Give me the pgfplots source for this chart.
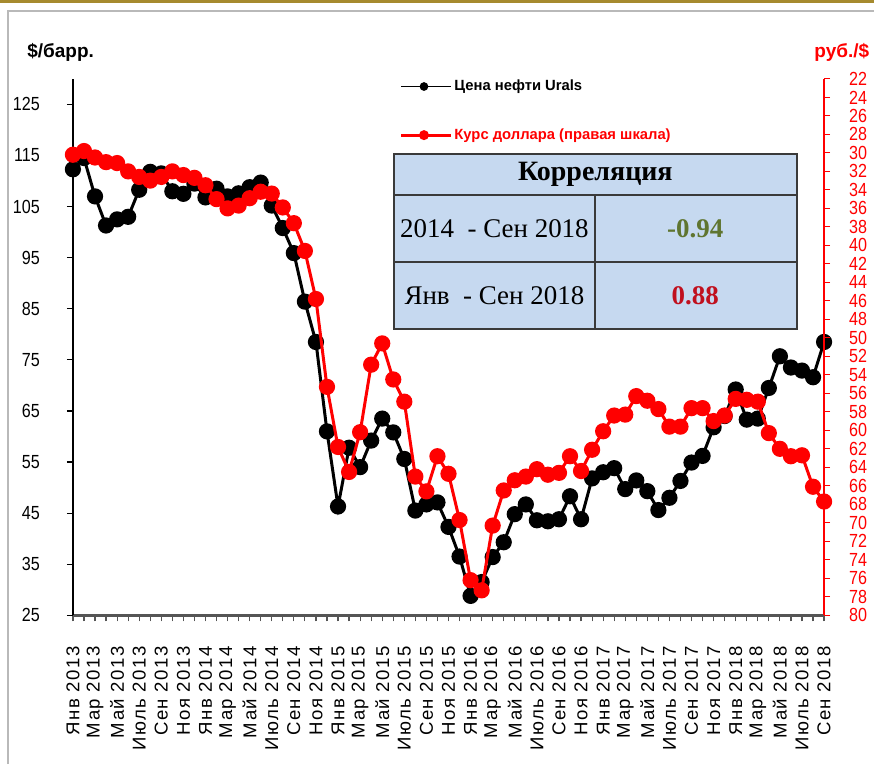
\documentclass[border=0pt]{standalone}
\usepackage{pgfplots}
\pgfplotsset{compat=1.18}
\usepackage{pgfplotstable}
\usepackage{fontspec}
\setmainfont{Liberation Sans}
\newfontfamily\narrowfont[FakeStretch=0.85]{Liberation Sans}
\newfontfamily\spacedfont[LetterSpace=8]{Liberation Sans}
\newfontfamily\seriffont{Liberation Serif}
\definecolor{tblfill}{HTML}{C6D9F0}
\definecolor{tblline}{HTML}{3A3A3A}
\definecolor{olivegreen}{HTML}{5F7530}
\definecolor{darkred}{HTML}{C0101E}
\definecolor{goldline}{HTML}{A68A2E}
\definecolor{xaxisgray}{HTML}{555555}

\pgfplotstableread{
i oil
0 112.3
1 114.5
2 107.0
3 101.3
4 102.5
5 103.0
6 108.3
7 111.8
8 111.5
9 108.0
10 107.5
11 109.5
12 106.8
13 108.5
14 107.0
15 107.6
16 108.8
17 109.7
18 105.2
19 100.8
20 95.9
21 86.4
22 78.5
23 61.0
24 46.3
25 57.8
26 54.0
27 59.2
28 63.5
29 60.8
30 55.6
31 45.5
32 46.7
33 47.1
34 42.3
35 36.5
36 28.8
37 31.5
38 36.4
39 39.3
40 44.8
41 46.7
42 43.6
43 43.4
44 43.8
45 48.3
46 43.8
47 51.8
48 53.0
49 53.8
50 49.7
51 51.4
52 49.3
53 45.6
54 48.0
55 51.3
56 54.9
57 56.2
58 61.8
59 64.0
60 69.2
61 63.3
62 63.5
63 69.5
64 75.7
65 73.5
66 72.9
67 71.6
68 78.5
}\oiltable

\pgfplotstableread{
i usd
0 30.2
1 29.8
2 30.5
3 31.0
4 31.1
5 32.0
6 32.6
7 33.0
8 32.6
9 32.0
10 32.4
11 32.7
12 33.5
13 35.0
14 36.0
15 35.7
16 34.9
17 34.2
18 34.4
19 35.9
20 37.6
21 40.6
22 45.8
23 55.3
24 61.8
25 64.5
26 60.2
27 52.9
28 50.6
29 54.5
30 56.9
31 65.0
32 66.6
33 62.8
34 64.7
35 69.7
36 76.2
37 77.3
38 70.3
39 66.5
40 65.4
41 65.0
42 64.2
43 64.8
44 64.6
45 62.8
46 64.4
47 62.1
48 60.1
49 58.4
50 58.3
51 56.3
52 56.8
53 57.7
54 59.6
55 59.6
56 57.6
57 57.6
58 59.0
59 58.4
60 56.6
61 56.7
62 56.9
63 60.3
64 62.0
65 62.8
66 62.7
67 66.1
68 67.7
}\usdtable

\begin{document}
\begin{tikzpicture}[x=0.5bp,y=0.5bp]
% canvas
\path (0,0) rectangle (875,765);
\fill[goldline] (0,765) rectangle (875,761.5);
\draw[gray!55, line width=1bp] (8,0) -- (8,754) -- (875,754);

% left axis: oil
\begin{axis}[
  at={(36.5bp,74.5bp)}, anchor=south west,
  scale only axis, width=376bp, height=268.5bp,
  xmin=0, xmax=68, ymin=25, ymax=130,
  axis x line*=bottom, axis y line*=left,
  axis line style={-},
  x axis line style={xaxisgray, line width=1.3bp},
  y axis line style={black, line width=0.7bp},
  ytick={25,35,...,125},
  xtick={0,2,...,68},
  minor xtick={1,3,...,67},
  tick align=outside,
  major tick length=3bp, minor tick length=3bp,
  xtick style={xaxisgray, line width=0.6bp},
  ytick style={black, line width=0.6bp},
  /pgf/number format/assume math mode=true,
  yticklabel style={font=\narrowfont\fontsize{9.5bp}{10bp}\selectfont, xshift=-10bp},
  xticklabel style={font=\spacedfont\fontsize{9.3bp}{10bp}\selectfont, rotate=90, anchor=east},
  xticklabel shift=9bp,
  xticklabels={Янв 2013,Мар 2013,Май 2013,Июль 2013,Сен 2013,Ноя 2013,
    Янв 2014,Мар 2014,Май 2014,Июль 2014,Сен 2014,Ноя 2014,
    Янв 2015,Мар 2015,Май 2015,Июль 2015,Сен 2015,Ноя 2015,
    Янв 2016,Мар 2016,Май 2016,Июль 2016,Сен 2016,Ноя 2016,
    Янв 2017,Мар 2017,Май 2017,Июль 2017,Сен 2017,Ноя 2017,
    Янв 2018,Мар 2018,Май 2018,Июль 2018,Сен 2018},
  clip=false,
]
\addplot[black, line width=1.5bp, mark=*, mark size=3.3bp, mark options={fill=black}] table[x=i, y=oil] {\oiltable};
\end{axis}

% right axis: USD
\begin{axis}[
  at={(36.5bp,74.5bp)}, anchor=south west,
  scale only axis, width=376bp, height=268.5bp,
  xmin=0, xmax=68, ymin=22, ymax=80, y dir=reverse,
  axis x line=none, axis y line*=right,
  axis line style={-},
  y axis line style={red, line width=0.7bp},
  ytick={22,24,...,80},
  tick align=outside, major tick length=3bp,
  ytick style={red, line width=0.6bp},
  /pgf/number format/assume math mode=true,
  yticklabel style={font=\narrowfont\fontsize{9.5bp}{10bp}\selectfont, red, xshift=6bp},
  clip=false,
  legend cell align=left,
  legend image code/.code={\draw[mark repeat=2,mark phase=2,#1, mark size=1.7bp] plot coordinates {(0bp,0bp) (11.5bp,0bp) (25bp,0bp)};},
  legend style={draw=none, fill=none, inner sep=0pt, outer sep=0pt,
    at={(0.4348,1.006)}, anchor=north west,
    font=\bfseries\fontsize{7.4bp}{8bp}\selectfont,
    row sep=13.5bp,
    /tikz/every even column/.append style={column sep=0bp},
    /tikz/every odd column/.append style={column sep=-1bp}},
]
\addlegendimage{black, line width=0.9bp, mark=*, mark options={fill=black}}
\addlegendentry{Цена нефти Urals}
\addplot[red, line width=1.5bp, mark=*, mark size=3.3bp, mark options={fill=red}] table[x=i, y=usd] {\usdtable};
\addlegendentry{\textcolor{red}{Курс доллара (правая шкала)}}
\end{axis}

% axis titles
\node[anchor=west, font=\bfseries\fontsize{9.5bp}{10bp}\selectfont, inner sep=0pt] at (27,713) {\$/барр.};
\node[anchor=west, font=\bfseries\fontsize{9.5bp}{10bp}\selectfont, text=red, inner sep=0pt] at (815,713) {руб./\$};

% correlation table
\fill[tblfill] (394,611) rectangle (798,436);
\draw[tblline, line width=1bp] (394,611) rectangle (798,436);
\draw[tblline, line width=1bp] (394,570) -- (798,570);
\draw[tblline, line width=1bp] (394,503) -- (798,503);
\draw[tblline, line width=1bp] (596,570) -- (596,436);
\node[font=\seriffont\bfseries\fontsize{14bp}{15bp}\selectfont] at (596,590) {Корреляция};
\node[font=\seriffont\fontsize{13.5bp}{14bp}\selectfont] at (495,536) {2014 \ - Сен 2018};
\node[font=\seriffont\fontsize{13.5bp}{14bp}\selectfont] at (495,469) {Янв \ - Сен 2018};
\node[font=\seriffont\bfseries\fontsize{13.5bp}{14bp}\selectfont, text=olivegreen] at (696,536) {-0.94};
\node[font=\seriffont\bfseries\fontsize{13.5bp}{14bp}\selectfont, text=darkred] at (696,469) {0.88};
\end{tikzpicture}
\end{document}
